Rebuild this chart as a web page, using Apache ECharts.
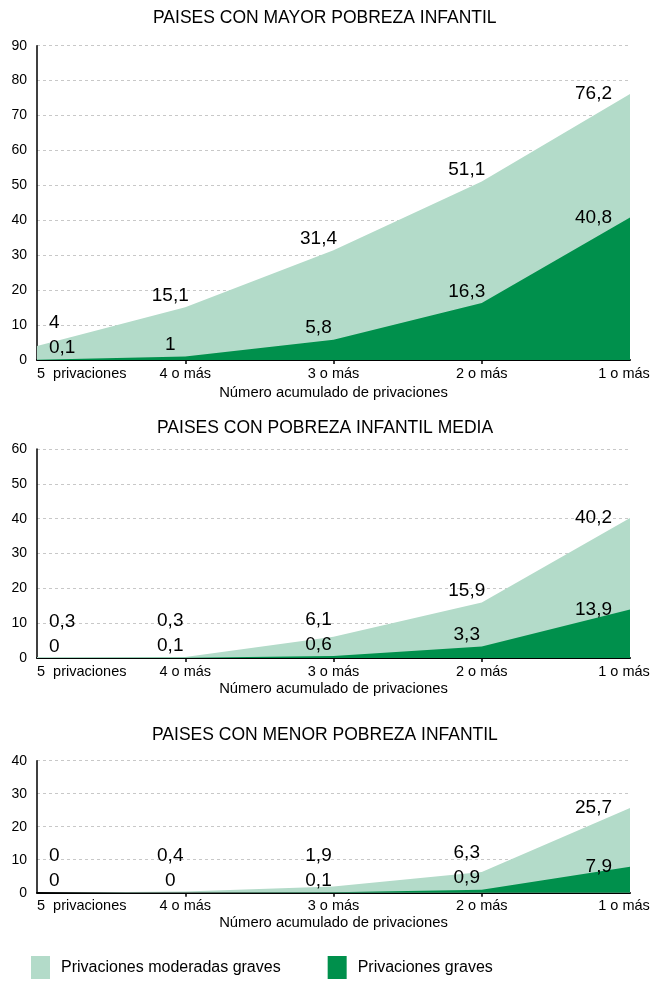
<!DOCTYPE html>
<html><head><meta charset="utf-8">
<script src="https://cdn.jsdelivr.net/npm/echarts@6/dist/echarts.min.js"></script>
<style>html,body{margin:0;padding:0;background:#fff}#chart{width:651px;height:981px}</style>
</head><body><div id="chart"></div>
<script>
// ---- data ----
const categories = ['5  privaciones', '4 o más', '3 o más', '2 o más', '1 o más'];
const panelTitles = ['PAISES CON MAYOR POBREZA INFANTIL', 'PAISES CON POBREZA INFANTIL MEDIA', 'PAISES CON MENOR POBREZA INFANTIL'];
const yMaxes = [90, 60, 40];
const xAxisName = 'Número acumulado de privaciones';
const seriesNames = ['Privaciones moderadas graves', 'Privaciones graves'];
const mayorModeradas = [4, 15.1, 31.4, 51.1, 76.2];
const mayorGraves = [0.1, 1, 5.8, 16.3, 40.8];
const mediaModeradas = [0.3, 0.3, 6.1, 15.9, 40.2];
const mediaGraves = [0, 0.1, 0.6, 3.3, 13.9];
const menorModeradas = [0, 0.4, 1.9, 6.3, 25.7];
const menorGraves = [0, 0, 0.1, 0.9, 7.9];

// ---- style / layout ----
const FONT = '"Liberation Sans", Arial, sans-serif';
const LIGHT = '#b3dbc9', DARK = '#00904c';
const layout = [
  { top: 45.7, height: 314.3, titleLeft: 153, titleTop: 9.5 },
  { top: 449, height: 209, titleLeft: 157, titleTop: 419 },
  { top: 760.7, height: 132, titleLeft: 152, titleTop: 726.5 }
];
const panelData = [
  [mayorModeradas, mayorGraves],
  [mediaModeradas, mediaGraves],
  [menorModeradas, menorGraves]
];
const GRID_LEFT = 37, GRID_RIGHT = 21;
const LABEL_DIST = 2, LABEL_GAP = 25;

const fmt = p => String(p.value).replace('.', ',');

function labelCfg(i, n, ownPx, darkPx, isLight) {
  const base = { show: true, color: '#000', fontSize: 19, fontFamily: FONT, formatter: fmt };
  if (i === n - 1) return Object.assign(base, { position: 'left', distance: 18 });
  const dx = i === 0 ? 12 : -15;
  let dy = 0;
  if (isLight) dy = -Math.max(0, darkPx + LABEL_GAP - ownPx);
  return Object.assign(base, { position: 'top', distance: LABEL_DIST, align: i === 0 ? 'left' : 'center', offset: [dx, dy] });
}

const grids = [], xAxes = [], yAxes = [], series = [], titles = [];
layout.forEach((L, k) => {
  const max = yMaxes[k];
  const ppu = L.height / max;
  const [mod, grav] = panelData[k];
  grids.push({ left: GRID_LEFT, right: GRID_RIGHT, top: L.top, height: L.height, outerBoundsMode: 'none', containLabel: false });
  titles.push({ text: panelTitles[k], left: L.titleLeft, top: L.titleTop, padding: 0,
    textStyle: { fontFamily: FONT, fontSize: 17.5, fontWeight: 'normal', color: '#000' } });
  const last = categories.length - 1;
  xAxes.push({
    type: 'category', gridIndex: k, data: categories, boundaryGap: false,
    axisLine: { lineStyle: { color: '#000', width: 2 } },
    axisTick: { show: true, length: 4, lineStyle: { color: '#000', width: 1.5 },
      interval: (i) => i > 0 && i < last },
    axisLabel: { color: '#000', fontSize: 14.5, fontFamily: FONT, margin: 6, interval: 0, alignMinLabel: 'left',
      formatter: (v, i) => i === last ? '{end|' + v + '}' : v,
      rich: { end: { fontSize: 14.5, fontFamily: FONT, color: '#000', padding: [0, 12, 0, 0] } } },
    name: xAxisName, nameLocation: 'middle', nameGap: k === 0 ? 25 : 23,
    nameTextStyle: { color: '#000', fontSize: 14.8, fontFamily: FONT }
  });
  yAxes.push({
    type: 'value', gridIndex: k, min: 0, max: max, interval: 10,
    axisLine: { show: true, lineStyle: { color: '#000', width: 1.5 } },
    axisTick: { show: false },
    axisLabel: { color: '#000', fontSize: 14, fontFamily: FONT, margin: 10 },
    splitLine: { show: true, lineStyle: { color: '#c8c8c8', type: [3, 3], width: 1 } }
  });
  const n = categories.length;
  series.push({
    name: seriesNames[0], type: 'line', xAxisIndex: k, yAxisIndex: k, z: 2,
    symbol: 'circle', symbolSize: 0.01, itemStyle: { color: LIGHT },
    lineStyle: { width: 0 }, areaStyle: { color: LIGHT, opacity: 1 },
    data: mod.map((v, i) => ({ value: v, label: labelCfg(i, n, v * ppu, grav[i] * ppu, true) })),
    emphasis: { disabled: true }
  });
  series.push({
    name: seriesNames[1], type: 'line', xAxisIndex: k, yAxisIndex: k, z: 3,
    symbol: 'circle', symbolSize: 0.01, itemStyle: { color: DARK },
    lineStyle: { width: 0 }, areaStyle: { color: DARK, opacity: 1 },
    data: grav.map((v, i) => ({ value: v, label: labelCfg(i, n, v * ppu, v * ppu, false) })),
    emphasis: { disabled: true }
  });
});

const chart = echarts.init(document.getElementById('chart'), null, { renderer: 'canvas' });
chart.setOption({
  animation: false,
  backgroundColor: '#fff',
  title: titles,
  grid: grids,
  xAxis: xAxes,
  yAxis: yAxes,
  legend: {
    data: seriesNames, left: 31, top: 956, icon: 'rect', itemWidth: 19, itemHeight: 23, itemGap: 47,
    selectedMode: false, padding: 0,
    textStyle: { color: '#000', fontSize: 16, fontFamily: FONT, padding: [0, 0, 0, 6] }
  },
  series: series
});
</script>
</body></html>
